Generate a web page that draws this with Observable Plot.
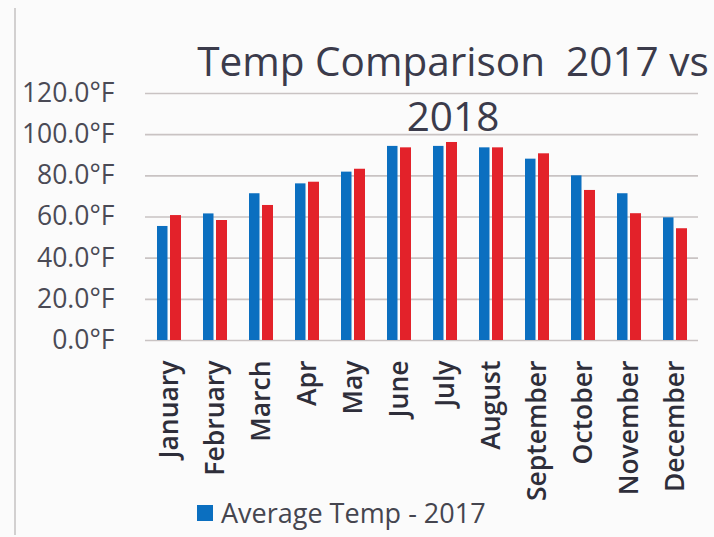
<!DOCTYPE html>
<html>
<head>
<meta charset="utf-8">
<script src="https://cdn.jsdelivr.net/npm/d3@7"></script>
<script src="https://cdn.jsdelivr.net/npm/@observablehq/plot@0.6"></script>
<style>
  html, body { margin: 0; padding: 0; background: #fbfbfb; }
  #wrap { position: relative; width: 714px; height: 537px; overflow: hidden; background: #fbfbfb; }
  #border { position: absolute; left: 14px; top: 8px; width: 700px; height: 527px; border-left: 2px solid #d2d0d0; box-sizing: border-box; }
  #chart { position: absolute; left: 0; top: 0; }
  #title { position: absolute; left: 192px; top: 33px; width: 522px; text-align: center;
           font-family: "Open Sans", sans-serif; font-size: 40.5px; line-height: 55px; color: #3b3b4b; white-space: pre; }
  #legend { position: absolute; left: 197px; top: 494px; display: flex; align-items: center;
            font-family: "Open Sans", sans-serif; font-size: 27px; color: #45454f; white-space: nowrap; }
  #legend .sw { display: inline-block; width: 16px; height: 16px; margin-right: 8px; }
</style>
</head>
<body>
<div id="wrap">
  <div id="border"></div>
  <div id="chart"></div>
  <div id="title"></div>
  <div id="legend"></div>
</div>
<script>
const months = ["January","February","March","Apr","May","June","July","August","September","October","November","December"];
const temp2017 = [55.4, 61.5, 71.3, 76.1, 81.8, 94.3, 94.3, 93.6, 88.1, 80.0, 71.3, 59.6];
const temp2018 = [60.7, 58.3, 65.6, 76.9, 83.2, 93.6, 96.2, 93.6, 90.7, 72.9, 61.6, 54.3];
const yTicks = [0, 20, 40, 60, 80, 100, 120];
const titleLines = ["Temp Comparison  2017 vs", "2018"];
const seriesNames = ["Average Temp - 2017", "Average Temp - 2018"];
const colors = ["#0b6fc0", "#e3222a"];

const rows2017 = months.map((m, i) => ({month: m, value: temp2017[i]}));
const rows2018 = months.map((m, i) => ({month: m, value: temp2018[i]}));

const chart = Plot.plot({
  width: 714,
  height: 537,
  marginLeft: 145,
  marginRight: 16,
  marginTop: 93,
  marginBottom: 197,
  style: {background: "transparent", fontFamily: "Open Sans, sans-serif"},
  x: {domain: months, padding: 0, label: null},
  y: {domain: [0, 120], label: null},
  marks: [
    Plot.ruleY(yTicks, {stroke: "#c9c3c3", strokeWidth: 1.6}),
    Plot.barY(rows2017, {x: "month", y: "value", fill: colors[0], insetLeft: 11, insetRight: 24.5}),
    Plot.barY(rows2018, {x: "month", y: "value", fill: colors[1], insetLeft: 24, insetRight: 11}),
    Plot.axisY({ticks: yTicks, tickSize: 0, tickPadding: 31, tickFormat: d => d3.format(".1f")(d) + "°F",
      fontSize: 26.5, fontWeight: 500, fill: "#4a4a55", label: null}),
    Plot.axisX({tickSize: 0, tickPadding: 20, tickRotate: -90, fontSize: 26.5, fontWeight: 600, fill: "#2e2e3a", label: null})
  ]
});
document.getElementById("chart").appendChild(chart);
document.getElementById("title").textContent = titleLines.join("\n");

const legend = document.getElementById("legend");
const sw = document.createElement("span");
sw.className = "sw";
sw.style.background = colors[0];
legend.appendChild(sw);
legend.appendChild(document.createTextNode(seriesNames[0]));
</script>
</body>
</html>
